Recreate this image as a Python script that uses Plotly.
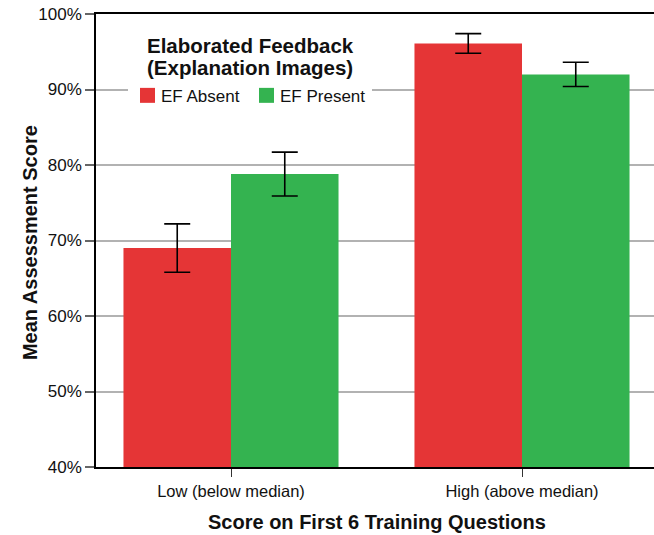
import plotly.graph_objects as go

categories = ["Low (below median)", "High (above median)"]
series_names = ["EF Absent", "EF Present"]
ef_absent = [69.0, 96.1]
ef_absent_err = [3.2, 1.3]
ef_present = [78.8, 92.0]
ef_present_err = [2.9, 1.6]
y_ticks = [40, 50, 60, 70, 80, 90, 100]
y_ticklabels = [f"{v}%" for v in y_ticks]

RED = "rgb(229,53,54)"
GREEN = "rgb(52,179,80)"
FONT = "Arial, Liberation Sans, sans-serif"

# page-pixel -> paper helpers
PX0, PW = 96.0, 558.0
PY0, PH = 467.3, 453.8
def px(x):
    return (x - PX0) / PW
def py(y):
    return (PY0 - y) / PH

fig = go.Figure()
fig.add_trace(go.Bar(
    name=series_names[0], x=[0, 1], y=ef_absent, marker=dict(color=RED, line=dict(width=0)),
    error_y=dict(type="data", array=ef_absent_err, color="black", thickness=1.6, width=13),
    showlegend=False,
))
fig.add_trace(go.Bar(
    name=series_names[1], x=[0, 1], y=ef_present, marker=dict(color=GREEN, line=dict(width=0)),
    error_y=dict(type="data", array=ef_present_err, color="black", thickness=1.6, width=13),
    showlegend=False,
))

shapes = [
    # legend background (hides gridline)
    dict(type="rect", xref="paper", yref="paper", x0=px(128), x1=px(372), y0=py(108), y1=py(30),
         fillcolor="white", line=dict(width=0), layer="above"),
    dict(type="rect", xref="paper", yref="paper", x0=px(140), x1=px(155), y0=py(102.5), y1=py(87.5),
         fillcolor=RED, line=dict(width=0), layer="above"),
    dict(type="rect", xref="paper", yref="paper", x0=px(259), x1=px(274), y0=py(102.5), y1=py(87.5),
         fillcolor=GREEN, line=dict(width=0), layer="above"),
]

annotations = [
    dict(text="<b>Elaborated Feedback</b>", xref="paper", yref="paper", x=px(250), y=py(45),
         showarrow=False, xanchor="center", yanchor="middle", font=dict(size=20.5, color="#111")),
    dict(text="<b>(Explanation Images)</b>", xref="paper", yref="paper", x=px(250), y=py(67),
         showarrow=False, xanchor="center", yanchor="middle", font=dict(size=20.5, color="#111")),
    dict(text=series_names[0], xref="paper", yref="paper", x=px(159), y=py(96),
         showarrow=False, xanchor="left", yanchor="middle", font=dict(size=17, color="#111")),
    dict(text=series_names[1], xref="paper", yref="paper", x=px(278), y=py(96),
         showarrow=False, xanchor="left", yanchor="middle", font=dict(size=17, color="#111")),
    dict(text="<b>Mean Assessment Score</b>", textangle=-90, xref="paper", yref="paper",
         x=px(30), y=py(243), showarrow=False, xanchor="center", yanchor="middle",
         font=dict(size=20, color="#111")),
    dict(text="<b>Score on First 6 Training Questions</b>", xref="paper", yref="paper",
         x=px(377), y=py(522), showarrow=False, xanchor="center", yanchor="middle",
         font=dict(size=20, color="#111")),
]

fig.update_layout(
    width=654, height=535,
    margin=dict(l=96, r=0, t=13.5, b=67.7, autoexpand=False),
    paper_bgcolor="white", plot_bgcolor="white",
    barmode="group", bargap=0.261, bargroupgap=0,
    font=dict(family=FONT, size=16, color="#111"),
    showlegend=False,
    xaxis=dict(
        tickmode="array", tickvals=[0, 1], ticktext=categories,
        range=[-0.4639, 1.4536], showgrid=False, zeroline=False,
        showline=True, linecolor="black", linewidth=1.6, mirror=True,
        ticks="outside", ticklen=8, tickcolor="#333", tickwidth=1.3,
        tickfont=dict(size=16.5, color="#111"),
    ),
    yaxis=dict(
        range=[40, 100], tickmode="array", tickvals=y_ticks, ticktext=y_ticklabels,
        showgrid=True, gridcolor="rgb(178,178,178)", gridwidth=1.6, zeroline=False,
        showline=True, linecolor="black", linewidth=1.6,
        ticks="outside", ticklen=9, tickcolor="#666", tickwidth=1.6,
        tickfont=dict(size=17, color="#111"),
    ),
    shapes=shapes,
    annotations=annotations,
)

fig.write_html(
    "out.html",
    config={"displayModeBar": False},
    post_script="document.body.style.margin='0';document.body.style.overflow='hidden';",
)
